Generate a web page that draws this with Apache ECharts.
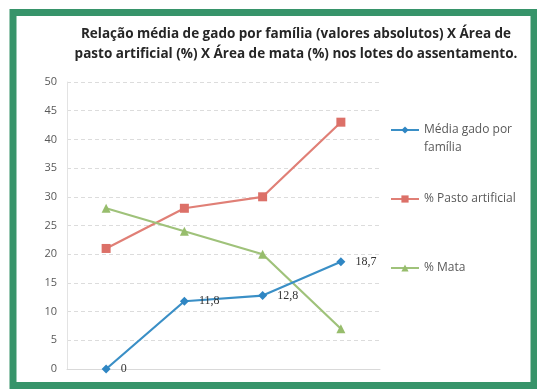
<!DOCTYPE html>
<html>
<head>
<meta charset="utf-8">
<script src="https://cdn.jsdelivr.net/npm/echarts@6/dist/echarts.min.js"></script>
<style>
  html, body { margin: 0; padding: 0; background: #ffffff; }
  #chart { width: 537px; height: 391px; }
</style>
</head>
<body>
<div id="chart"></div>
<script>
// Lotes do assentamento (sem rótulos no eixo X)
const categories = ['Lote 1', 'Lote 2', 'Lote 3', 'Lote 4'];
// Média de gado por família (valores absolutos)
const mediaGado = [0, 11.8, 12.8, 18.7];
// Área de pasto artificial (%)
const pastoArtificial = [21, 28, 30, 43];
// Área de mata (%)
const mata = [28, 24, 20, 7];

const seriesNames = ['Média gado por família', '% Pasto artificial', '% Mata'];
const yTicks = { min: 0, max: 50, interval: 5 };

const chart = echarts.init(document.getElementById('chart'), null, { renderer: 'canvas' });

const legendText = { fontFamily: 'Open Sans', fontSize: 12, color: '#595959', lineHeight: 18 };
function legendFor(name, top, formatter) {
  return {
    data: [name], left: 390, top: top, orient: 'vertical',
    itemWidth: 28, itemHeight: 9, itemGap: 0, padding: 0,
    textStyle: legendText, formatter: formatter || '{name}'
  };
}

chart.setOption({
  backgroundColor: '#ffffff',
  animation: false,
  title: {
    text: 'Relação média de gado por família (valores absolutos) X Área de\npasto artificial (%) X Área de mata (%) nos lotes do assentamento.',
    left: 291, top: 19, textAlign: 'center',
    textStyle: { fontFamily: 'Open Sans', fontWeight: 'bold', fontSize: 13.5, color: '#262626', lineHeight: 20 }
  },
  graphic: [{
    type: 'rect', z: 100, silent: true,
    shape: { x: 13, y: 12.5, width: 521, height: 373 },
    style: { fill: 'none', stroke: '#37946a', lineWidth: 7 }
  }],
  legend: [
    legendFor(seriesNames[0], 103, function () { return '\nMédia gado por\nfamília'; }),
    legendFor(seriesNames[1], 190),
    legendFor(seriesNames[2], 259)
  ],
  grid: { left: 67, right: 157, top: 82, bottom: 22, containLabel: false },
  xAxis: {
    type: 'category', data: categories, boundaryGap: true,
    axisLine: { show: true, lineStyle: { color: '#d9d9d9', width: 1 } },
    axisTick: { show: false },
    axisLabel: { show: false }
  },
  yAxis: {
    type: 'value', min: yTicks.min, max: yTicks.max, interval: yTicks.interval,
    axisLine: { show: true, lineStyle: { color: '#e3e3e3', width: 1 } },
    axisTick: { show: false },
    axisLabel: { fontFamily: 'Open Sans', fontSize: 11, color: '#595959', margin: 10 },
    splitLine: { show: true, lineStyle: { color: '#dcdcdc', width: 1, type: [4, 3] } }
  },
  series: [
    {
      name: seriesNames[0], type: 'line', data: mediaGado,
      symbol: 'diamond', symbolSize: 9,
      lineStyle: { color: '#3a8fc6', width: 2.2 },
      itemStyle: { color: '#2f86c3' },
      label: {
        show: true, position: 'right', distance: 10,
        fontFamily: 'Liberation Serif', fontSize: 12, color: '#333333',
        formatter: function (p) { return String(p.value).replace('.', ','); }
      },
      z: 3
    },
    {
      name: seriesNames[1], type: 'line', data: pastoArtificial,
      symbol: 'rect', symbolSize: 9,
      lineStyle: { color: '#e07f76', width: 2.2 },
      itemStyle: { color: '#dc7068' },
      z: 2
    },
    {
      name: seriesNames[2], type: 'line', data: mata,
      symbol: 'triangle', symbolSize: 9,
      lineStyle: { color: '#9fc27a', width: 2.2 },
      itemStyle: { color: '#97bd6c' },
      z: 2
    }
  ]
});
</script>
</body>
</html>
